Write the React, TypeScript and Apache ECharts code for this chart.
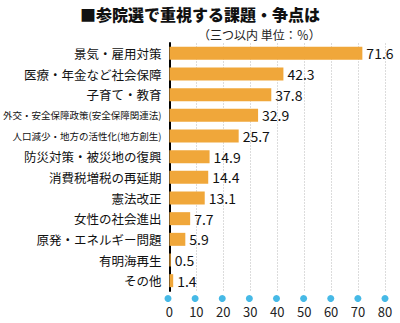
import React, { useEffect, useRef } from "react";
import * as echarts from "echarts";

const categories = [
  "景気・雇用対策",
  "医療・年金など社会保障",
  "子育て・教育",
  "外交・安全保障政策(安全保障関連法)",
  "人口減少・地方の活性化(地方創生)",
  "防災対策・被災地の復興",
  "消費税増税の再延期",
  "憲法改正",
  "女性の社会進出",
  "原発・エネルギー問題",
  "有明海再生",
  "その他",
];
const values = [71.6, 42.3, 37.8, 32.9, 25.7, 14.9, 14.4, 13.1, 7.7, 5.9, 0.5, 1.4];
const smallLabels = ["外交・安全保障政策(安全保障関連法)", "人口減少・地方の活性化(地方創生)"];
const tickValues = [0, 10, 20, 30, 40, 50, 60, 70, 80];
const title = "■参院選で重視する課題・争点は";
const subtitle = "（三つ以内 単位：％）";

const FONT = "'Noto Sans CJK JP', 'Noto Sans', sans-serif";

export default function App() {
  const ref = useRef<HTMLDivElement>(null);
  useEffect(() => {
    if (!ref.current) return;
    const chart = echarts.init(ref.current, undefined, { renderer: "svg" });
    chart.setOption({
      animation: false,
      backgroundColor: "#fff",
      textStyle: { fontFamily: FONT },
      title: [
        {
          text: title,
          left: "center",
          top: 1,
          textStyle: { fontSize: 16, fontWeight: 900, color: "#111", fontFamily: FONT },
        },
        {
          text: subtitle,
          left: 193,
          top: 23,
          textStyle: { fontSize: 12, fontWeight: "normal", color: "#222", fontFamily: FONT },
        },
      ],
      grid: [
        { left: 168, right: 15, top: 43, height: 248, containLabel: false },
        { left: 168, right: 15, top: 298, height: 1, containLabel: false },
      ],
      xAxis: [
        {
          type: "value",
          gridIndex: 0,
          min: 0,
          max: 80,
          interval: 10,
          axisLine: { show: false },
          axisTick: { show: false },
          splitLine: { show: true, lineStyle: { color: "#dcdcdc", width: 1, type: [2, 1] } },
          axisLabel: { fontSize: 13, color: "#222", margin: 14, fontFamily: FONT },
        },
        { type: "value", gridIndex: 1, min: 0, max: 80, show: false },
      ],
      yAxis: [
        {
          type: "category",
          gridIndex: 0,
          data: categories,
          inverse: true,
          axisLine: { show: true, lineStyle: { color: "#000", width: 2 } },
          axisTick: { show: false },
          axisLabel: {
            margin: 8,
            color: "#111",
            fontSize: 12.5,
            fontFamily: FONT,
            formatter: (v: string) => (smallLabels.includes(v) ? `{s|${v}}` : v),
            rich: { s: { fontSize: 9.5, color: "#111", fontFamily: FONT } },
          },
        },
        { type: "value", gridIndex: 1, min: -1, max: 1, show: false },
      ],
      series: [
        {
          type: "bar",
          xAxisIndex: 0,
          yAxisIndex: 0,
          data: values,
          barWidth: 13,
          itemStyle: { color: "#F0A73A" },
          label: {
            show: true,
            position: "right",
            distance: 4,
            fontSize: 14,
            color: "#111",
            fontFamily: FONT,
            formatter: (p: any) => Number(p.value).toFixed(1),
          },
        },
        {
          type: "scatter",
          xAxisIndex: 1,
          yAxisIndex: 1,
          data: tickValues.map((t) => [t, 0]),
          symbolSize: 7,
          itemStyle: { color: "#18A8E0" },
          silent: true,
        },
      ],
    });
    return () => chart.dispose();
  }, []);
  return (
    <div
      ref={ref}
      style={{ position: "fixed", left: 0, top: 0, width: 400, height: 323 }}
    />
  );
}
